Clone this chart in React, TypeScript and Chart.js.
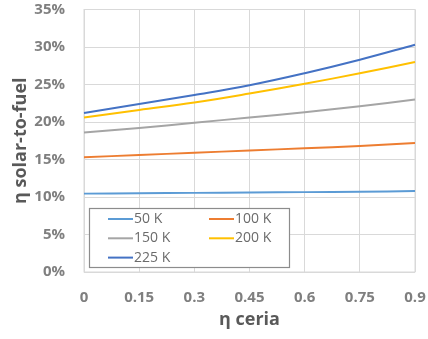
import React, { useEffect, useRef } from "react";
import { Chart, registerables } from "chart.js";

Chart.register(...registerables);

const xLabels = ["0", "0.15", "0.3", "0.45", "0.6", "0.75", "0.9"];
const s50 = [10.45, 10.5, 10.55, 10.6, 10.65, 10.7, 10.8];
const s100 = [15.3, 15.6, 15.9, 16.2, 16.5, 16.8, 17.2];
const s150 = [18.6, 19.2, 19.9, 20.6, 21.3, 22.1, 23.0];
const s200 = [20.6, 21.6, 22.6, 23.8, 25.1, 26.5, 28.0];
const s225 = [21.2, 22.4, 23.6, 24.9, 26.5, 28.3, 30.3];
const seriesNames = ["50 K", "100 K", "150 K", "200 K", "225 K"];
const seriesColors = ["#5B9BD5", "#ED7D31", "#A5A5A5", "#FFC000", "#4472C4"];
const yMin = 0;
const yMax = 35;
const yStep = 5;

const FONT = "'Open Sans', 'DejaVu Sans', sans-serif";

const legendPlugin = {
  id: "insideLegend",
  afterDraw(chart: any) {
    const { ctx, chartArea } = chart;
    const bx = chartArea.left + 5;
    const by = chartArea.bottom - 64;
    const bw = 200;
    const bh = 59;
    ctx.save();
    ctx.fillStyle = "#ffffff";
    ctx.fillRect(bx, by, bw, bh);
    ctx.strokeStyle = "#8c8c8c";
    ctx.lineWidth = 1.2;
    ctx.strokeRect(bx + 0.5, by + 0.5, bw, bh);
    ctx.font = `14px ${FONT}`;
    ctx.textBaseline = "middle";
    chart.data.datasets.forEach((ds: any, i: number) => {
      const col = i % 2;
      const row = Math.floor(i / 2);
      const lx = bx + 19 + col * 101;
      const ly = by + 11 + row * 19.3;
      ctx.strokeStyle = ds.borderColor;
      ctx.lineWidth = 2;
      ctx.beginPath();
      ctx.moveTo(lx, ly);
      ctx.lineTo(lx + 25, ly);
      ctx.stroke();
      ctx.fillStyle = "#6b6b6b";
      ctx.fillText(ds.label, lx + 26, ly);
    });
    ctx.restore();
  },
};

const borderPlugin = {
  id: "areaBorder",
  beforeDatasetsDraw(chart: any) {
    const { ctx, chartArea } = chart;
    ctx.save();
    ctx.strokeStyle = "#d9d9d9";
    ctx.lineWidth = 1;
    ctx.strokeRect(chartArea.left, chartArea.top, chartArea.right - chartArea.left, chartArea.bottom - chartArea.top);
    ctx.restore();
  },
};

export default function App() {
  const ref = useRef<HTMLCanvasElement>(null);
  useEffect(() => {
    if (!ref.current) return;
    const all = [s50, s100, s150, s200, s225];
    const chart = new Chart(ref.current, {
      type: "line",
      data: {
        labels: xLabels,
        datasets: all.map((d, i) => ({
          label: seriesNames[i],
          data: d,
          borderColor: seriesColors[i],
          backgroundColor: seriesColors[i],
          borderWidth: 2,
          pointRadius: 0,
          tension: 0.4,
          fill: false,
        })),
      },
      options: {
        animation: false,
        responsive: false,
        maintainAspectRatio: false,
        layout: { padding: { left: 4, right: 13, top: 9.5, bottom: 4 } },
        plugins: {
          legend: { display: false },
          tooltip: { enabled: false },
        },
        scales: {
          x: {
            type: "category",
            offset: false,
            grid: { color: "#d9d9d9", drawTicks: false },
            border: { display: false },
            ticks: {
              color: "#7f7f7f",
              font: { family: FONT, size: 15, weight: "bold" },
              padding: 17,
              maxRotation: 0,
              autoSkip: false,
            },
            title: {
              display: true,
              text: "η ceria",
              color: "#595959",
              font: { family: FONT, size: 18, weight: "bold" },
              padding: { top: 4, bottom: 4 },
            },
            afterFit: (scale: any) => {
              scale.height = 63;
              scale.paddingLeft = 0;
              scale.paddingRight = 0;
            },
          },
          y: {
            min: yMin,
            max: yMax,
            grid: { color: "#d9d9d9", drawTicks: false },
            border: { display: false },
            ticks: {
              stepSize: yStep,
              color: "#7f7f7f",
              font: { family: FONT, size: 15, weight: "bold" },
              padding: 19,
              callback: (v: any) => v + "%",
            },
            title: {
              display: true,
              text: "η solar-to-fuel",
              color: "#595959",
              font: { family: FONT, size: 18, weight: "bold" },
              padding: { top: 6, bottom: 0 },
            },
            afterFit: (scale: any) => {
              scale.width = 80;
              scale.paddingTop = 0;
              scale.paddingBottom = 0;
            },
          },
        },
      },
      plugins: [borderPlugin, legendPlugin],
    });
    return () => chart.destroy();
  }, []);
  return (
    <div style={{ position: "fixed", left: 0, top: 0, width: 428, height: 339, background: "#fff" }}>
      <canvas ref={ref} width={428} height={339} />
    </div>
  );
}
